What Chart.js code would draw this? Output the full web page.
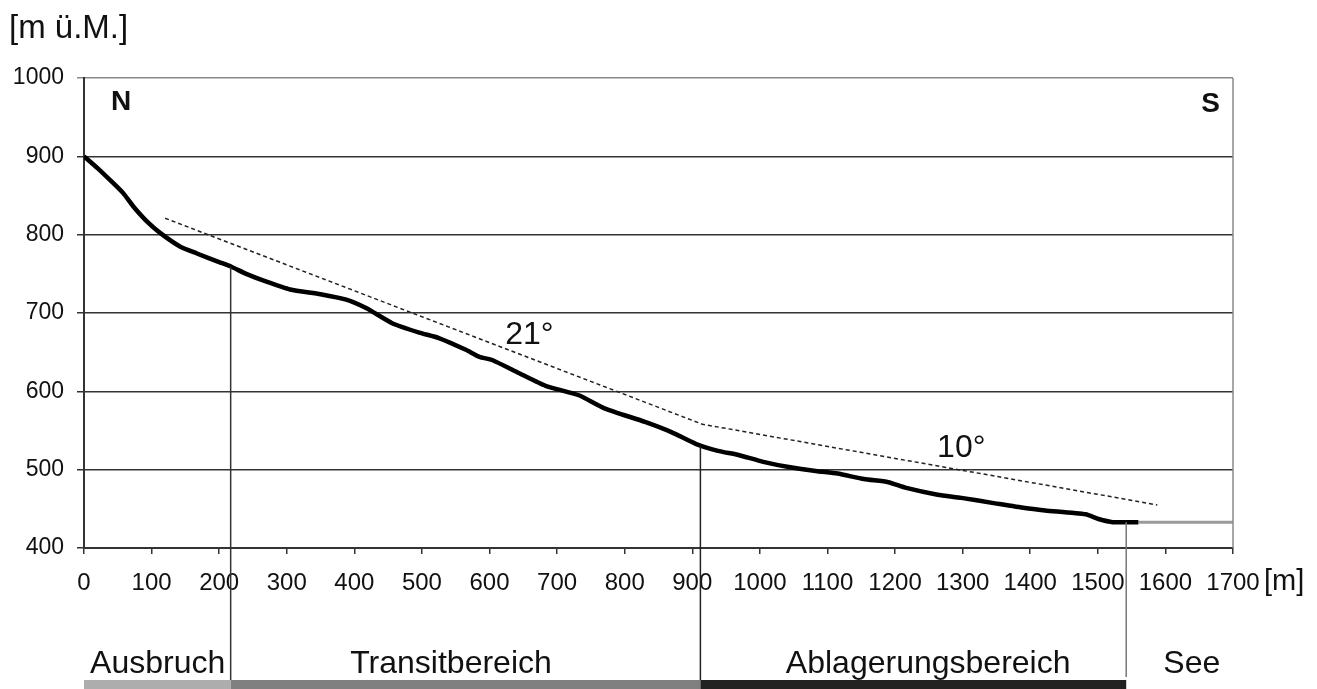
<!DOCTYPE html>
<html>
<head>
<meta charset="utf-8">
<script src="https://cdn.jsdelivr.net/npm/chart.js@4"></script>
<style>
  body { margin: 0; background: #fff; }
  #wrap { width: 1317px; height: 689px; position: relative; }
</style>
</head>
<body>
<div id="wrap"><canvas id="profileChart"></canvas></div>
<script>
// Längsprofil (Distanz [m], Höhe [m ü.M.])
var profileX = [0, 20, 43, 58, 73, 93, 113, 142, 167, 200, 218, 240, 270, 305, 350, 388, 418, 456, 496, 525,
                565, 585, 604, 644, 683, 732, 771, 830, 869, 905, 938, 967, 1005, 1045, 1085, 1115, 1154, 1190,
                1215, 1263, 1298, 1348, 1392, 1422, 1482, 1501, 1522, 1560];
var profileY = [900, 885, 866, 853, 836, 817, 802, 785, 776, 765, 759, 750, 740, 730, 724, 717, 706, 687, 675, 668,
                653, 644, 640, 623, 607, 595, 578, 561, 548, 533, 524, 519, 510, 503, 498, 495, 488, 484,
                477, 468, 464, 457, 451, 448, 443, 437, 433, 433];

// Seespiegel
var lakeX = [1560, 1700];
var lakeY = [433, 433];

// mittlere Neigung (gestrichelt)
var slopeX = [120, 915, 1588];
var slopeY = [821, 558, 455];

// Abschnittsgrenzen [m]
var zoneBounds = [0, 217, 912, 1542, 1700];
var zoneNames = ["Ausbruch", "Transitbereich", "Ablagerungsbereich", "See"];
var zoneLabelX = [109, 543, 1249, 1639];
var zoneColors = ["#adadad", "#808080", "#222222", null];

var xTicks = [0, 100, 200, 300, 400, 500, 600, 700, 800, 900, 1000, 1100, 1200, 1300, 1400, 1500, 1600, 1700];
var yTicks = [400, 500, 600, 700, 800, 900, 1000];

// Beschriftungen im Diagramm
var notes = [
    { text: "N", x: 55, y: 969, bold: true },
    { text: "S", x: 1667, y: 967, bold: true },
    { text: "21°", x: 659, y: 672, bold: false },
    { text: "10°", x: 1298, y: 528, bold: false }
];

function pairs(xs, ys) {
    return xs.map(function (x, i) { return { x: x, y: ys[i] }; });
}

var FONT = "'Liberation Sans', Arial, sans-serif";

var decorations = {
    id: "decorations",
    afterDatasetsDraw: function (chart) {
        var ctx = chart.ctx;
        var xs = chart.scales.x, ys = chart.scales.y;
        var area = chart.chartArea;
        ctx.save();

        // rechter Rand
        ctx.strokeStyle = "#8a8a8a";
        ctx.lineWidth = 1.5;
        ctx.beginPath();
        ctx.moveTo(area.right, area.top);
        ctx.lineTo(area.right, area.bottom);
        ctx.stroke();

        // Grenzlinien der Abschnitte
        var tops = [759, 530, 433];
        var lineColors = ["#333", "#222", "#777"];
        var ends = [680, 680, 677];
        for (var i = 1; i <= 3; i++) {
            var px = xs.getPixelForValue(zoneBounds[i]);
            ctx.strokeStyle = lineColors[i - 1];
            ctx.lineWidth = 1.5;
            ctx.beginPath();
            ctx.moveTo(px, ys.getPixelForValue(tops[i - 1]));
            ctx.lineTo(px, ends[i - 1]);
            ctx.stroke();
        }

        // Balken unten
        for (var j = 0; j < zoneNames.length; j++) {
            if (zoneColors[j]) {
                var x0 = xs.getPixelForValue(zoneBounds[j]);
                var x1 = xs.getPixelForValue(zoneBounds[j + 1]);
                ctx.fillStyle = zoneColors[j];
                ctx.fillRect(x0, 680, x1 - x0, 12);
            }
            ctx.fillStyle = "#111";
            ctx.font = "32px " + FONT;
            ctx.textAlign = "center";
            ctx.textBaseline = "alphabetic";
            ctx.fillText(zoneNames[j], xs.getPixelForValue(zoneLabelX[j]), 673);
        }

        // Texte im Diagramm
        notes.forEach(function (n) {
            ctx.font = (n.bold ? "bold 28px " : "32px ") + FONT;
            ctx.fillStyle = "#111";
            ctx.textAlign = "center";
            ctx.textBaseline = "middle";
            ctx.fillText(n.text, xs.getPixelForValue(n.x), ys.getPixelForValue(n.y));
        });

        // Achseneinheiten
        ctx.font = "33px " + FONT;
        ctx.textAlign = "left";
        ctx.textBaseline = "middle";
        ctx.fillText("[m ü.M.]", 9, 29);
        ctx.font = "29px " + FONT;
        ctx.fillText("[m]", 1264, 582);

        ctx.restore();
    }
};

function plain(v) { return String(v); }

document.addEventListener("DOMContentLoaded", function () {
    var ctx = document.getElementById("profileChart").getContext("2d");
    new Chart(ctx, {
        type: "line",
        data: {
            datasets: [{
                label: "Profil",
                data: pairs(profileX, profileY),
                borderColor: "#000",
                borderWidth: 4.5,
                pointRadius: 0,
                tension: 0.2,
                fill: false
            }, {
                label: "See",
                data: pairs(lakeX, lakeY),
                borderColor: "#9a9a9a",
                borderWidth: 3,
                pointRadius: 0,
                fill: false
            }, {
                label: "Neigung",
                data: pairs(slopeX, slopeY),
                borderColor: "#222",
                borderWidth: 1.5,
                borderDash: [4, 3],
                pointRadius: 0,
                fill: false
            }]
        },
        options: {
            responsive: true,
            maintainAspectRatio: false,
            animation: false,
            layout: { padding: { top: 78, right: 84, left: 0, bottom: 0 } },
            plugins: {
                legend: { display: false },
                tooltip: { enabled: false }
            },
            scales: {
                x: {
                    type: "linear",
                    min: 0,
                    max: 1700,
                    afterFit: function (scale) { scale.height = 141; },
                    afterBuildTicks: function (scale) {
                        scale.ticks = xTicks.map(function (v) { return { value: v }; });
                    },
                    ticks: {
                        color: "#111",
                        padding: 15,
                        maxRotation: 0,
                        autoSkip: false,
                        callback: plain,
                        font: { family: FONT, size: 24 }
                    },
                    grid: {
                        drawOnChartArea: false,
                        drawTicks: true,
                        tickLength: 6,
                        color: "#333",
                        lineWidth: 1.5
                    },
                    border: { color: "#333", width: 2 }
                },
                y: {
                    min: 400,
                    max: 1000,
                    afterFit: function (scale) { scale.width = 84; },
                    afterBuildTicks: function (scale) {
                        scale.ticks = yTicks.map(function (v) { return { value: v }; });
                    },
                    ticks: {
                        color: "#111",
                        padding: 13,
                        callback: plain,
                        font: { family: FONT, size: 23 }
                    },
                    grid: {
                        color: function (c) { return c.tick && c.tick.value === 1000 ? "#8a8a8a" : "#333"; },
                        lineWidth: 1.5,
                        tickLength: 7
                    },
                    border: { color: "#333", width: 2 }
                }
            }
        },
        plugins: [decorations]
    });
});
</script>
</body>
</html>
